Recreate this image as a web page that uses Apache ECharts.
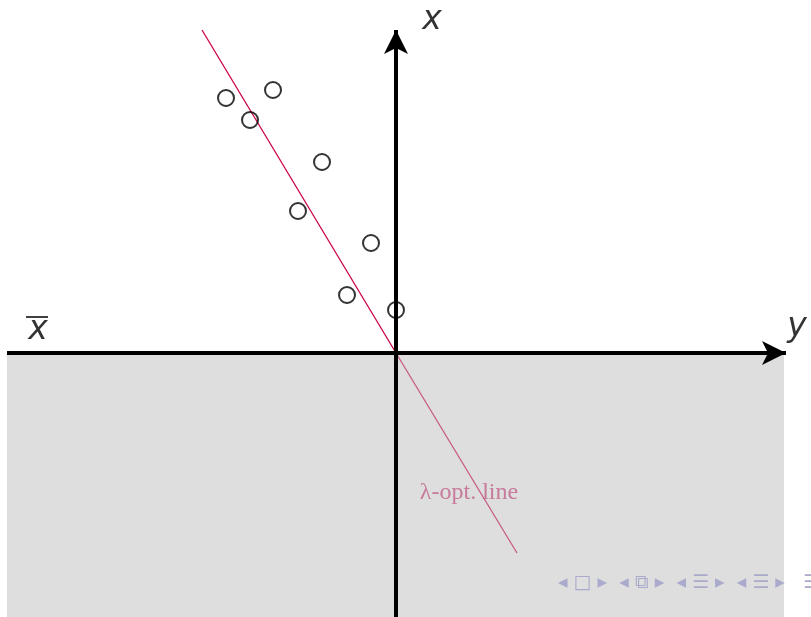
<!DOCTYPE html>
<html><head><meta charset="utf-8">
<script src="https://cdn.jsdelivr.net/npm/echarts@6/dist/echarts.min.js"></script>
<style>html,body{margin:0;padding:0;background:#fff}#c{width:811px;height:617px}</style>
</head><body><div id="c"></div>
<script>
// Data (units: horizontal "y" axis, vertical "x" axis; origin at the crossing)
const points = [[-17.0,25.5],[-12.3,26.3],[-14.6,23.3],[-7.4,19.1],[-9.8,14.2],[-2.5,11.0],[-4.9,5.8],[0.0,4.3]];
const lineUpper = [[-19.4,32.3],[0,0]];
const lineLower = [[0,0],[12.1,-20.0]];
const xRange = [-39.6, 41.5];
const yRange = [-26.4, 35.3];
const shadeX = [-38.9, 38.8];
const hAxisEnds = [[-38.9,0],[39.0,0]];
const vAxisEnds = [[0,-26.4],[0,32.3]];
const labels = [
  {name:'x', coord:[3.6,33.3]},
  {name:'y', coord:[40.1,2.6]},
  {name:'x', coord:[-35.8,2.3]}
];
const barCoord = [[-37.0,3.6],[-34.8,3.6]];
const lambdaLabel = {name:'λ-opt. line', coord:[7.3,-14.0]};
const navText = '◂ □ ▸  ◂ ⧉ ▸  ◂ ☰ ▸  ◂ ☰ ▸   ☰';

const chart = echarts.init(document.getElementById('c'));
chart.setOption({
  animation:false,
  grid:{left:0,right:0,top:0,bottom:0},
  xAxis:{type:'value',min:xRange[0],max:xRange[1],show:false},
  yAxis:{type:'value',min:yRange[0],max:yRange[1],show:false},
  series:[
    {type:'line',data:[],silent:true,
     markArea:{silent:true,itemStyle:{color:'#dedede'},data:[[{coord:[shadeX[0],0]},{coord:[shadeX[1],yRange[0]]}]]}},
    {type:'line',data:lineLower,symbol:'none',lineStyle:{color:'#c85b86',width:1.3},z:3},
    {type:'line',data:lineUpper,symbol:'none',lineStyle:{color:'#cc0044',width:1.3},z:3},
    {type:'line',data:[],silent:true,z:4,
     markLine:{silent:true,symbol:['none','arrow'],symbolSize:[18,24],label:{show:false},
       lineStyle:{color:'#000',width:4,type:'solid'},
       data:[[{coord:hAxisEnds[0]},{coord:hAxisEnds[1]}],[{coord:vAxisEnds[0]},{coord:vAxisEnds[1]}]]}},
    {type:'line',data:barCoord,symbol:'none',lineStyle:{color:'#000',width:1.5},z:6},
    {type:'scatter',data:points,symbol:'circle',symbolSize:16,z:5,
     itemStyle:{color:'rgba(0,0,0,0)',borderColor:'#000',borderWidth:2}},
    {type:'scatter',data:labels.map(l=>({value:l.coord,name:l.name})),symbolSize:1,z:6,
     itemStyle:{color:'rgba(0,0,0,0)'},
     label:{show:true,formatter:'{b}',position:'inside',fontFamily:'DejaVu Sans',fontStyle:'oblique',fontSize:33,color:'#000'}},
    {type:'scatter',data:[{value:lambdaLabel.coord,name:lambdaLabel.name}],symbolSize:1,z:6,
     itemStyle:{color:'rgba(0,0,0,0)'},
     label:{show:true,formatter:'{b}',position:'inside',fontFamily:'Liberation Serif',fontSize:24,color:'#c0608a'}}
  ],
  graphic:[
    {type:'text',left:558,top:574,z:100,silent:true,
     style:{text:navText,fontFamily:'DejaVu Sans',fontSize:19,fill:'#aaaacc'}}
  ]
});
</script></body></html>
